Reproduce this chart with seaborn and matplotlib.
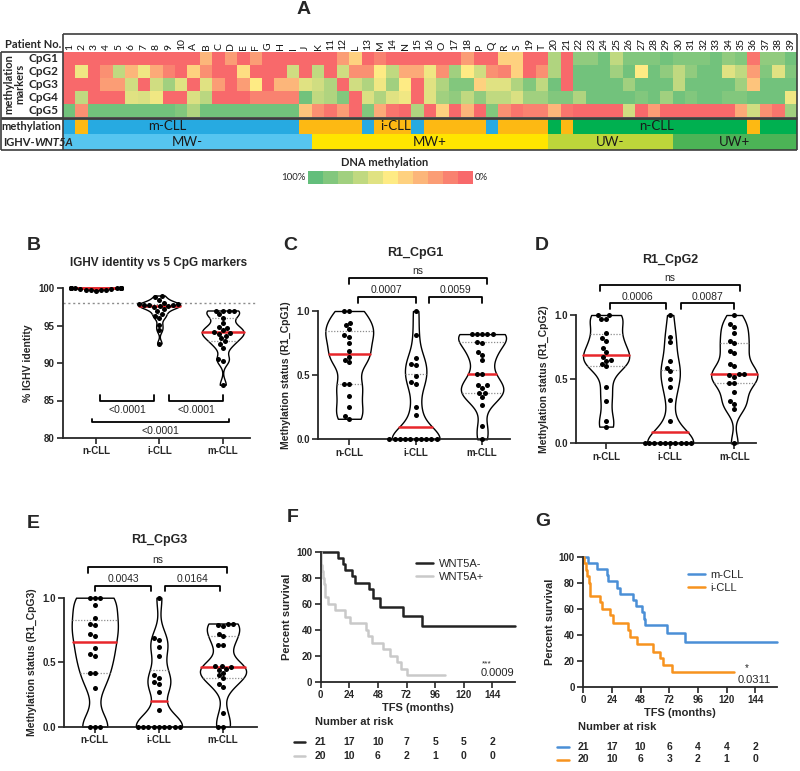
import numpy as np
import pandas as pd
import matplotlib
matplotlib.use("Agg")
import matplotlib.pyplot as plt
from matplotlib.colors import LinearSegmentedColormap, ListedColormap
import matplotlib.transforms as mtrans
import seaborn as sns

sns.set_theme(style="ticks")
plt.rcParams['font.family'] = ['Liberation Sans', 'DejaVu Sans']

# ---------------- DATA ----------------
patients = ["1", "2", "3", "4", "5", "6", "7", "8", "9", "10",
            "A", "B", "C", "D", "E", "F", "G", "H", "I",
            "J", "K", "11", "12", "L", "13", "M", "14", "N", "15", "16",
            "O", "17", "18", "P", "Q", "R", "S", "19", "T",
            "20", "21", "22", "23", "24", "25", "26", "27", "28", "29",
            "30", "31", "32", "33", "34", "35", "36", "37", "38", "39"]
markers = ["CpG1", "CpG2", "CpG3", "CpG4", "CpG5"]
cpg1 = [0, 0, 0, 0, 0, 0, 0, 0, 0, 0,
        0, 0.3, 0, 0.2, 0, 0.2, 0, 0, 0,
        0, 0, 0, 0.2, 0.4, 0, 0.1, 0, 0, 0, 0, 0, 0, 0.2, 0, 0, 0.4, 0.4, 0, 0,
        0.75, 0, 0.85, 0.85, 0.95, 0.7, 0.9, 0.9, 0.9, 0.95, 0.9, 0.9, 0.9, 0.95, 0.85, 0.9, 0.05, 0.85, 0.85, 0.95]
cpg2 = [0, 0.55, 0, 0.15, 0.7, 0.3, 0.55, 0.25, 0.1, 0,
        0.4, 0.15, 0, 0, 0.45, 0, 0, 0, 0.65,
        0, 0.7, 0, 0.65, 0.15, 0.15, 0.5, 0.7, 0.25, 0.25, 0.55, 0.15, 0.8, 0.5, 0.65, 0.15, 0.1, 0.4, 0, 0.15,
        0.75, 0, 0.95, 0.95, 0.95, 0.8, 0.95, 0.5, 0.95, 0.85, 0.7, 0.85, 0.95, 0.95, 0.6, 0.7, 0.2, 0.9, 0.6, 0.9]
cpg3 = [0, 0, 0, 0.2, 0.2, 0.65, 0, 0.65, 0.8, 0.6,
        0, 0.6, 0.2, 0, 0.2, 0.5, 0, 0.3, 0.3,
        0.6, 0.65, 0.75, 0, 0.65, 0.75, 0.55, 0.8, 0.5, 0, 0.6, 0.75, 0.9, 0.9, 0.4, 0.6, 0.6, 0.75, 0.9, 0.7,
        0.95, 0, 0.95, 0.95, 0.95, 0.95, 0.8, 0.95, 0.95, 0.95, 0.7, 0.95, 0.95, 0.95, 0.95, 0.8, 0.35, 0.95, 0.95, 0.95]
cpg4 = [0, 0.7, 0, 0, 0, 0.6, 0.62, 0.55, 0, 0,
        0.62, 0.72, 0, 0, 0, 0.1, 0.1, 0.1, 0.1,
        0.95, 0.7, 0.75, 0.9, 0, 0.62, 0.75, 0.6, 0.55, 0, 0.6, 0.8, 0.85, 0.7, 0.85, 0.7, 0.7, 0.62, 0.8, 0.8,
        0.9, 0.9, 0.75, 0.95, 0.95, 0.95, 0.95, 0.9, 0.95, 0.8, 0.95, 0.9, 0.95, 0.95, 0.9, 0.9, 0.95, 0.95, 0.95, 0.55]
cpg5 = [0.95, 0.15, 0.95, 0.95, 0.95, 0.95, 0.95, 0.95, 0.95, 0.9,
        0.75, 0.95, 0.95, 0.95, 0.95, 0.95, 0.95, 0.95, 0.95,
        0.35, 0.15, 0.05, 0.2, 0, 0.9, 0.25, 0.05, 0, 0.75, 0, 0.4, 0, 0.3, 0, 0.9, 0.15, 0.05, 0.1, 0.1,
        0.3, 0.05, 0, 0, 0, 0, 0.65, 0, 0.2, 0, 0, 0, 0, 0, 0, 0.25, 0.65, 0.15, 0.05, 0.8]
methylation_group = (["m-CLL", "i-CLL"] + ["m-CLL"] * 17 + ["i-CLL"] * 5 + ["m-CLL"] + ["i-CLL"] * 3
                     + ["m-CLL"] + ["i-CLL"] * 5 + ["m-CLL"] + ["i-CLL"] * 4 + ["n-CLL", "i-CLL"]
                     + ["n-CLL"] * 14 + ["i-CLL"] + ["n-CLL"] * 3)
ighv_wnt5a_group = ["MW-"] * 20 + ["MW+"] * 19 + ["UW-"] * 10 + ["UW+"] * 10
legend_levels = [1.0, 0.9, 0.8, 0.7, 0.6, 0.5, 0.4, 0.3, 0.2, 0.1, 0.0]

groups = ["n-CLL", "i-CLL", "m-CLL"]
ighv_identity = {
    "n-CLL": [100, 100, 100, 100, 100, 100, 100, 100, 100, 100, 100, 99.9, 99.9, 99.8, 99.8, 99.8, 99.7, 99.6],
    "i-CLL": [99.0, 98.8, 98.4, 98.0, 97.9, 97.9, 97.8, 97.8, 97.7, 97.6, 97.6, 97.5, 97.2, 97.0,
              96.6, 96.3, 96.0, 95.1, 94.4, 92.6],
    "m-CLL": [97.0, 97.0, 96.9, 96.9, 96.5, 96.0, 95.3, 94.8, 94.7, 94.4, 94.1, 94.0, 93.9, 93.6,
              93.3, 92.9, 92.6, 92.0, 90.6, 90.3, 87.1],
}
r1_cpg1 = {
    "n-CLL": [1.0, 1.0, 0.91, 0.89, 0.86, 0.81, 0.80, 0.75, 0.69, 0.645, 0.62, 0.60, 0.43, 0.43, 0.34, 0.25, 0.18, 0.16],
    "i-CLL": [1.0, 0.81, 0.63, 0.59, 0.58, 0.49, 0.45, 0.43, 0.25, 0.19, 0, 0, 0, 0, 0, 0, 0, 0, 0, 0],
    "m-CLL": [0.82, 0.82, 0.82, 0.82, 0.82, 0.76, 0.75, 0.68, 0.66, 0.62, 0.51, 0.51, 0.42, 0.42, 0.40,
              0.36, 0.36, 0.33, 0.27, 0.10, 0.0],
}
r1_cpg2 = {
    "n-CLL": [1.0, 1.0, 0.97, 0.97, 0.86, 0.82, 0.80, 0.74, 0.71, 0.67, 0.65, 0.64, 0.62, 0.60, 0.44, 0.33, 0.17, 0.13],
    "i-CLL": [1.0, 0.83, 0.79, 0.64, 0.59, 0.56, 0.50, 0.44, 0.34, 0.17, 0, 0, 0, 0, 0, 0, 0, 0, 0, 0],
    "m-CLL": [1.0, 0.93, 0.91, 0.86, 0.80, 0.78, 0.72, 0.70, 0.62, 0.60, 0.54, 0.54, 0.53, 0.52, 0.47,
              0.47, 0.40, 0.33, 0.31, 0.27, 0.0],
}
r1_cpg3 = {
    "n-CLL": [1.0, 1.0, 1.0, 0.94, 0.84, 0.80, 0.79, 0.72, 0.70, 0.61, 0.56, 0.55, 0.42, 0.42, 0.30, 0.0, 0.0, 0.0],
    "i-CLL": [1.0, 0.69, 0.67, 0.62, 0.55, 0.40, 0.38, 0.35, 0.33, 0.27, 0.13, 0, 0, 0, 0, 0, 0, 0, 0, 0],
    "m-CLL": [0.80, 0.80, 0.79, 0.78, 0.72, 0.70, 0.63, 0.63, 0.47, 0.47, 0.46, 0.45, 0.44, 0.42, 0.40,
              0.38, 0.33, 0.31, 0.11, 0.0, 0.0],
}

# Kaplan-Meier step curves (months, percent survival)
wnt5a_neg_t = [0, 14.8, 18.4, 20.4, 26, 28.8, 40.5, 44, 49.7, 69, 84.6, 163]
wnt5a_neg_s = [100, 95.2, 90.5, 85.7, 81.0, 76.2, 71.4, 64.3, 57.6, 50.4, 43.2, 43.2]
wnt5a_pos_t = [0, 0.5, 1, 2, 3, 4, 6, 12, 20, 24.6, 37.7, 40, 43, 52, 58, 64, 67, 72, 104]
wnt5a_pos_s = [100, 90, 85, 80, 75, 65, 60, 55, 50, 45, 40, 35, 30, 25, 20, 15, 10, 5, 5]
mcll_t = [0, 4.3, 11.2, 20, 21, 28, 31, 42, 44, 49.5, 51, 52, 70, 85, 162]
mcll_s = [100, 95.2, 90.5, 85.7, 81.0, 76.2, 71.4, 66.7, 61.9, 57.1, 52.4, 47.6, 41.0, 34.2, 34.2]
icll_t = [0, 1, 2, 3.4, 5, 5.6, 14, 15.4, 22.3, 25, 37.7, 39.5, 44.7, 58.7, 64, 66.5, 74, 126]
icll_s = [100, 95, 90, 85, 80, 70, 65, 60, 55, 49, 44, 38, 33, 27, 22, 16.5, 11, 11]
risk_months = [0, 24, 48, 72, 96, 120, 144]
risk_F_neg = [21, 17, 10, 7, 5, 5, 2]
risk_F_pos = [20, 10, 6, 2, 1, 0, 0]
risk_G_m = [21, 17, 10, 6, 4, 4, 2]
risk_G_i = [20, 10, 6, 3, 2, 1, 0]

# ---------------- FIGURE ----------------
W, H = 800, 771
fig = plt.figure(figsize=(8, 7.71), dpi=100)


def px_axes(left, top, right, bottom):
    return fig.add_axes([left / W, 1 - bottom / H, (right - left) / W, (bottom - top) / H])


HM_FONT = ['Lato', 'DejaVu Sans']
meth_cmap = LinearSegmentedColormap.from_list("meth", ["#F8696B", "#FFEB84", "#63BE7B"])

# ---- Panel A heatmap ----
ax_hm = px_axes(63, 52, 797, 117)
hm = pd.DataFrame([cpg1, cpg2, cpg3, cpg4, cpg5], index=markers, columns=patients)
sns.heatmap(hm, cmap=meth_cmap, vmin=0, vmax=1, cbar=False, ax=ax_hm,
            xticklabels=True, yticklabels=True)
ax_hm.xaxis.tick_top()
ax_hm.tick_params(axis='x', length=0, pad=1.5, labelsize=7.5, labelrotation=90, labelcolor='#111111')
ax_hm.tick_params(axis='y', length=0, pad=3, labelsize=8.5, labelrotation=0)
for lab in ax_hm.get_xticklabels():
    lab.set_family(HM_FONT)
for lab in ax_hm.get_yticklabels():
    lab.set_family(HM_FONT)
    lab.set_fontweight('bold')
ax_hm.set_xlabel("")
ax_hm.set_ylabel("")

cat_names = ["m-CLL", "i-CLL", "n-CLL", "MW-", "MW+", "UW-", "UW+"]
cat_colors = ["#27AAE1", "#FDB913", "#00B050", "#56C5F0", "#FFE500", "#BDD63A", "#4CB456"]
codes = pd.DataFrame([[cat_names.index(g) for g in methylation_group],
                      [cat_names.index(g) for g in ighv_wnt5a_group]])
ax_cat = px_axes(63, 118, 797, 150)
sns.heatmap(codes, cmap=ListedColormap(cat_colors), vmin=-0.5, vmax=6.5, cbar=False,
            xticklabels=False, yticklabels=False, ax=ax_cat)
ax_cat.set_xlabel(""); ax_cat.set_ylabel("")
meth_label_pos = {"m-CLL": 8.4, "i-CLL": 26.7, "n-CLL": 47.7}
for name, xpos in meth_label_pos.items():
    ax_cat.text(xpos, 0.5, name, ha='center', va='center', fontsize=9.5, color='#1a1a1a', family=HM_FONT)
for name in ["MW-", "MW+", "UW-", "UW+"]:
    idx = [i for i, g in enumerate(ighv_wnt5a_group) if g == name]
    ax_cat.text((idx[0] + idx[-1] + 1) / 2, 1.5, name, ha='center', va='center', fontsize=9.5,
                color='#1a1a1a', family=HM_FONT)

# legend colour bar
ax_leg = px_axes(308, 171, 473, 184)
sns.heatmap(pd.DataFrame([legend_levels]), cmap=meth_cmap, vmin=0, vmax=1, cbar=False,
            xticklabels=False, yticklabels=False, ax=ax_leg)

# ---- violin panels ----
def violin_panel(ax, data, ylim, yticks, yticklabels, ylabel, xl, width=0.72, bw=0.55):
    df = pd.DataFrame([(g, v) for g in groups for v in data[g]], columns=["group", "value"])
    sns.violinplot(data=df, x="group", y="value", order=groups, cut=0, inner="quart",
                   density_norm="width", width=width, bw_adjust=bw, color="white",
                   linecolor="black", linewidth=1.0, saturation=1, ax=ax)
    meds = df.groupby("group")["value"].median()
    for ln in ax.lines:
        xd = np.asarray(ln.get_xdata(), dtype=float)
        yd = np.asarray(ln.get_ydata(), dtype=float)
        k = int(round(xd.mean()))
        if np.isclose(yd[0], meds[groups[k]]):
            ln.set_color("#E8262B"); ln.set_linestyle("-"); ln.set_linewidth(1.8); ln.set_zorder(4)
        else:
            ln.set_color("#8C8C8C"); ln.set_linestyle((0, (1, 1.3))); ln.set_linewidth(0.9)
    sns.swarmplot(data=df, x="group", y="value", order=groups, color="black", size=3.6,
                  ax=ax, warn_thresh=1, zorder=5)
    for art in list(ax.collections) + list(ax.lines):
        art.set_clip_on(False)
    ax.set_xlim(*xl)
    ax.set_ylim(*ylim)
    ax.set_yticks(yticks)
    ax.set_yticklabels(yticklabels)
    ax.set_xlabel("")
    ax.set_ylabel(ylabel, fontsize=7.5, fontweight='bold', labelpad=4)
    sns.despine(ax=ax)
    for sp in ["left", "bottom"]:
        ax.spines[sp].set_linewidth(1.3)
    ax.tick_params(direction='out', length=4, width=1.2, labelsize=7, pad=2)
    for lab in ax.get_xticklabels() + ax.get_yticklabels():
        lab.set_fontweight('bold')


def bracket(ax, x1, x2, y, tick, label, ly, fs=7.5):
    ax.plot([x1, x1, x2, x2], [tick, y, y, tick], color='black', lw=1.3, clip_on=False)
    ax.text((x1 + x2) / 2, ly, label, ha='center', va='center', fontsize=fs, clip_on=False)


# B
axB = px_axes(63, 288, 250, 438)
violin_panel(axB, ighv_identity, (80, 100), [80, 85, 90, 95, 100], ["80", "85", "90", "95", "100"],
             "% IGHV identity", (-0.52, 2.43), width=0.66, bw=0.5)
axB.axhline(98, color='#8C8C8C', lw=1.0, ls=(0, (1.5, 2)), zorder=0, xmax=1.03, clip_on=False)
bracket(axB, 0.06, 0.92, 85, 85.7, "<0.0001", 83.7)
bracket(axB, 1.15, 2.01, 85, 85.7, "<0.0001", 83.7)
bracket(axB, -0.07, 2.1, 82.1, 82.6, "<0.0001", 81.0)
axB.text(0.98, 103.3, "IGHV identity vs 5 CpG markers", ha='center', va='center', fontsize=8.5,
         fontweight='bold', clip_on=False)

# C, D, E
r1_ticks = [0.0, 0.5, 1.0]
r1_labels = ["0.0", "0.5", "1.0"]
axC = px_axes(318, 311, 510, 439.3)
violin_panel(axC, r1_cpg1, (0, 1), r1_ticks, r1_labels, "Methylation status (R1_CpG1)", (-0.47, 2.42))
bracket(axC, 0.125, 1.0, 1.11, 1.065, "0.0007", 1.16)
bracket(axC, 1.2, 2.0, 1.11, 1.065, "0.0059", 1.16)
bracket(axC, 0.0, 2.07, 1.255, 1.21, "ns", 1.31)
axC.text(1.0, 1.45, "R1_CpG1", ha='center', va='center', fontsize=9, fontweight='bold', clip_on=False)

axD = px_axes(576, 315, 756, 443.3)
violin_panel(axD, r1_cpg2, (0, 1), r1_ticks, r1_labels, "Methylation status (R1_CpG2)", (-0.47, 2.34))
bracket(axD, 0.06, 0.93, 1.09, 1.05, "0.0006", 1.14)
bracket(axD, 1.17, 2.0, 1.09, 1.05, "0.0087", 1.14)
bracket(axD, -0.09, 2.09, 1.23, 1.19, "ns", 1.29)
axD.text(1.0, 1.43, "R1_CpG2", ha='center', va='center', fontsize=9, fontweight='bold', clip_on=False)

axE = px_axes(64, 597.7, 257, 726.7)
violin_panel(axE, r1_cpg3, (0, 1), r1_ticks, r1_labels, "Methylation status (R1_CpG3)", (-0.48, 2.53))
bracket(axE, 0.0, 0.88, 1.09, 1.05, "0.0043", 1.145)
bracket(axE, 1.09, 1.95, 1.09, 1.05, "0.0164", 1.145)
bracket(axE, -0.11, 2.06, 1.235, 1.19, "ns", 1.29)
axE.text(1.0, 1.445, "R1_CpG3", ha='center', va='center', fontsize=9, fontweight='bold', clip_on=False)


# ---- KM panels ----
def km_panel(ax, curves, xmax, leg_anchor, risk_rows, risk_y):
    for t, s, c, lab in curves:
        sns.lineplot(x=t, y=s, drawstyle="steps-post", color=c, linewidth=1.8, estimator=None,
                     sort=False, ax=ax, label=lab)
    ax.set_xlim(0, xmax)
    ax.set_ylim(0, 100)
    ax.set_xticks(risk_months)
    ax.set_yticks([0, 20, 40, 60, 80, 100])
    ax.set_xlabel("TFS (months)", fontsize=8, fontweight='bold', labelpad=2)
    ax.set_ylabel("Percent survival", fontsize=8, fontweight='bold', labelpad=3)
    sns.despine(ax=ax)
    for sp in ["left", "bottom"]:
        ax.spines[sp].set_linewidth(1.3)
    ax.tick_params(direction='out', length=4, width=1.2, labelsize=7, pad=2)
    for lab in ax.get_xticklabels() + ax.get_yticklabels():
        lab.set_fontweight('bold')
    for ln in ax.lines:
        ln.set_clip_on(False)
    ax.legend(frameon=False, loc='upper left', bbox_to_anchor=leg_anchor, fontsize=8,
              handlelength=1.5, handletextpad=0.5, labelspacing=0.25, borderaxespad=0)
    trans = mtrans.blended_transform_factory(ax.transData, ax.transAxes)
    for row, yy in zip(risk_rows, risk_y):
        for m, n in zip(risk_months, row):
            ax.text(m, yy, str(n), transform=trans, ha='center', va='center', fontsize=7.5,
                    fontweight='bold', clip_on=False)


axF = px_axes(320.7, 551.7, 515, 681.7)
km_panel(axF, [(wnt5a_neg_t, wnt5a_neg_s, "#232323", "WNT5A-"),
               (wnt5a_pos_t, wnt5a_pos_s, "#C9C9C9", "WNT5A+")],
         163, (0.47, 0.98), [risk_F_neg, risk_F_pos], [-0.465, -0.57])
axF.text(139, 14, "***", ha='center', va='center', fontsize=6)
axF.text(162, 6.5, "0.0009", ha='right', va='center', fontsize=8)

axG = px_axes(583.3, 556.7, 776.7, 686.7)
km_panel(axG, [(mcll_t, mcll_s, "#4A8FD6", "m-CLL"),
               (icll_t, icll_s, "#F7931E", "i-CLL")],
         162, (0.52, 0.93), [risk_G_m, risk_G_i], [-0.46, -0.56])
axG.text(137, 14, "*", ha='center', va='center', fontsize=7)
axG.text(157, 5, "0.0311", ha='right', va='center', fontsize=8)

# ---- overlay for table frame and free text (pixel coordinates) ----
ov = fig.add_axes([0, 0, 1, 1])
ov.set_xlim(0, W)
ov.set_ylim(H, 0)
ov.axis('off')
ov.set_zorder(10)
ov.patch.set_visible(False)
frame_c = "#3d3d3d"
for xs, ys, lw in [([63, 797], [34, 34], 1.2), ([797, 797], [34, 150], 1.2), ([0.8, 797], [150, 150], 1.2),
                   ([0.8, 0.8], [52, 150], 1.2), ([0.8, 63], [52, 52], 1.2), ([63, 63], [34, 150], 1.2),
                   ([0.8, 797], [117.5, 117.5], 2.0)]:
    ov.plot(xs, ys, color=frame_c, lw=lw, solid_capstyle='butt')

ov.text(61, 44, "Patient No.", ha='right', va='center', fontsize=8, fontweight='bold', family=HM_FONT)
ov.text(14, 84, "methylation\nmarkers", ha='center', va='center', rotation=90, fontsize=8,
        fontweight='bold', family=HM_FONT, linespacing=1.0)
ov.text(61, 126, "methylation", ha='right', va='center', fontsize=8, fontweight='bold', family=HM_FONT)
t1 = ov.text(3, 142, "IGHV-", ha='left', va='center', fontsize=8, fontweight='bold', family=HM_FONT)
renderer = fig.canvas.get_renderer()
bb = t1.get_window_extent(renderer=renderer)
ov.text(3 + bb.width, 142, "WNT5A", ha='left', va='center', fontsize=8, fontweight='bold',
        style='italic', family=HM_FONT)
ov.text(385, 163, "DNA methylation", ha='center', va='center', fontsize=8, fontweight='bold', family=HM_FONT)
ov.text(306, 178, "100%", ha='right', va='center', fontsize=7, family=HM_FONT)
ov.text(475, 178, "0%", ha='left', va='center', fontsize=7, family=HM_FONT)

for lab, x, y in [("A", 297, 10), ("B", 27, 246), ("C", 283, 246), ("D", 535, 246),
                  ("E", 27, 523), ("F", 287, 518), ("G", 535, 522)]:
    ov.text(x, y, lab, ha='left', va='center', fontsize=14, fontweight='bold')

# number-at-risk headers and row markers
ov.text(315, 722, "Number at risk", ha='left', va='center', fontsize=8, fontweight='bold')
ov.text(578, 727, "Number at risk", ha='left', va='center', fontsize=8, fontweight='bold')
ov.plot([294, 305], [742, 742], color="#232323", lw=1.8)
ov.plot([294, 305], [756, 756], color="#C9C9C9", lw=1.8)
ov.plot([557, 569], [747, 747], color="#4A8FD6", lw=1.8)
ov.plot([557, 569], [760, 760], color="#F7931E", lw=1.8)

fig.savefig("out.png", dpi=100)
